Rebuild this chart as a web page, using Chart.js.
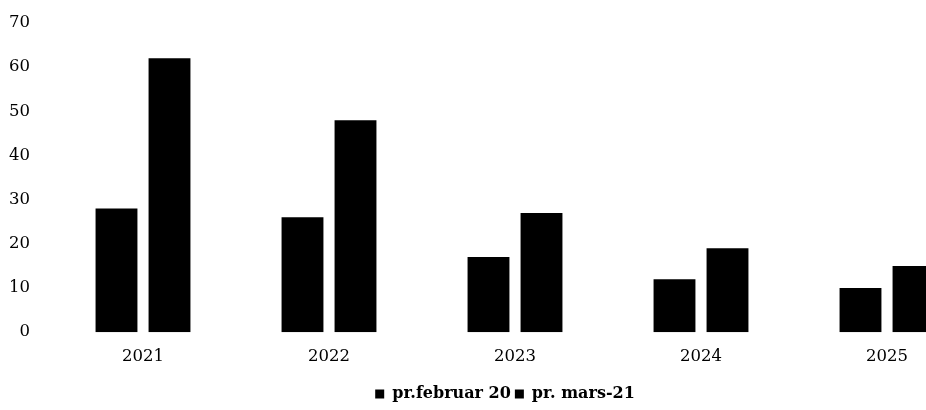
<!DOCTYPE html>
<html>
<head>
<meta charset="utf-8">
<script src="https://cdn.jsdelivr.net/npm/chart.js@4"></script>
<style>
html,body{margin:0;padding:0;background:#fff;overflow:hidden;}
#wrap{width:1010px;height:410px;position:relative;}
</style>
</head>
<body>
<div id="wrap"><canvas id="c"></canvas></div>
<script>
const categories = ["2021", "2022", "2023", "2024", "2025"];
const seriesNames = ["pr.februar 20", "pr. mars-21"];
const febValues = [28, 26, 17, 12, 10];
const marsValues = [62, 48, 27, 19, 15];
const yTicks = [0, 10, 20, 30, 40, 50, 60, 70];

const FONT = "'DejaVu Serif', serif";

const shiftLegend = {
  id: 'shiftLegend',
  afterLayout(chart) {
    if (chart.legend) { chart.legend.left += 15; chart.legend.right += 15; }
  }
};

new Chart(document.getElementById('c'), {
  type: 'bar',
  data: {
    labels: categories,
    datasets: [
      { label: seriesNames[0], data: febValues, backgroundColor: '#000', borderWidth: 0 },
      { label: seriesNames[1], data: marsValues, backgroundColor: '#000', borderWidth: 0 }
    ]
  },
  plugins: [shiftLegend],
  options: {
    responsive: true,
    maintainAspectRatio: false,
    animation: false,
    devicePixelRatio: 1,
    layout: { padding: { top: 23, right: 30, bottom: -2, left: 0 } },
    datasets: { bar: { categoryPercentage: 0.57, barPercentage: 0.79 } },
    scales: {
      x: {
        grid: { display: false, drawTicks: false },
        border: { display: false },
        ticks: { color: '#000', font: { family: FONT, size: 16.5 }, padding: 15, maxRotation: 0 }
      },
      y: {
        min: 0, max: 70,
        afterFit: (s) => { s.width = 50; s.paddingTop = 0; s.paddingBottom = 0; },
        afterBuildTicks: (s) => { s.ticks = yTicks.map(v => ({ value: v })); },
        grid: { display: false, drawTicks: false },
        border: { display: false },
        ticks: { color: '#000', font: { family: FONT, size: 16.5 }, padding: 20 }
      }
    },
    plugins: {
      legend: {
        position: 'bottom',
        labels: {
          color: '#000',
          font: { family: FONT, size: 16, weight: 'bold' },
          boxWidth: 9, boxHeight: 9, padding: 4
        }
      },
      tooltip: { enabled: false }
    }
  }
});
</script>
</body>
</html>
